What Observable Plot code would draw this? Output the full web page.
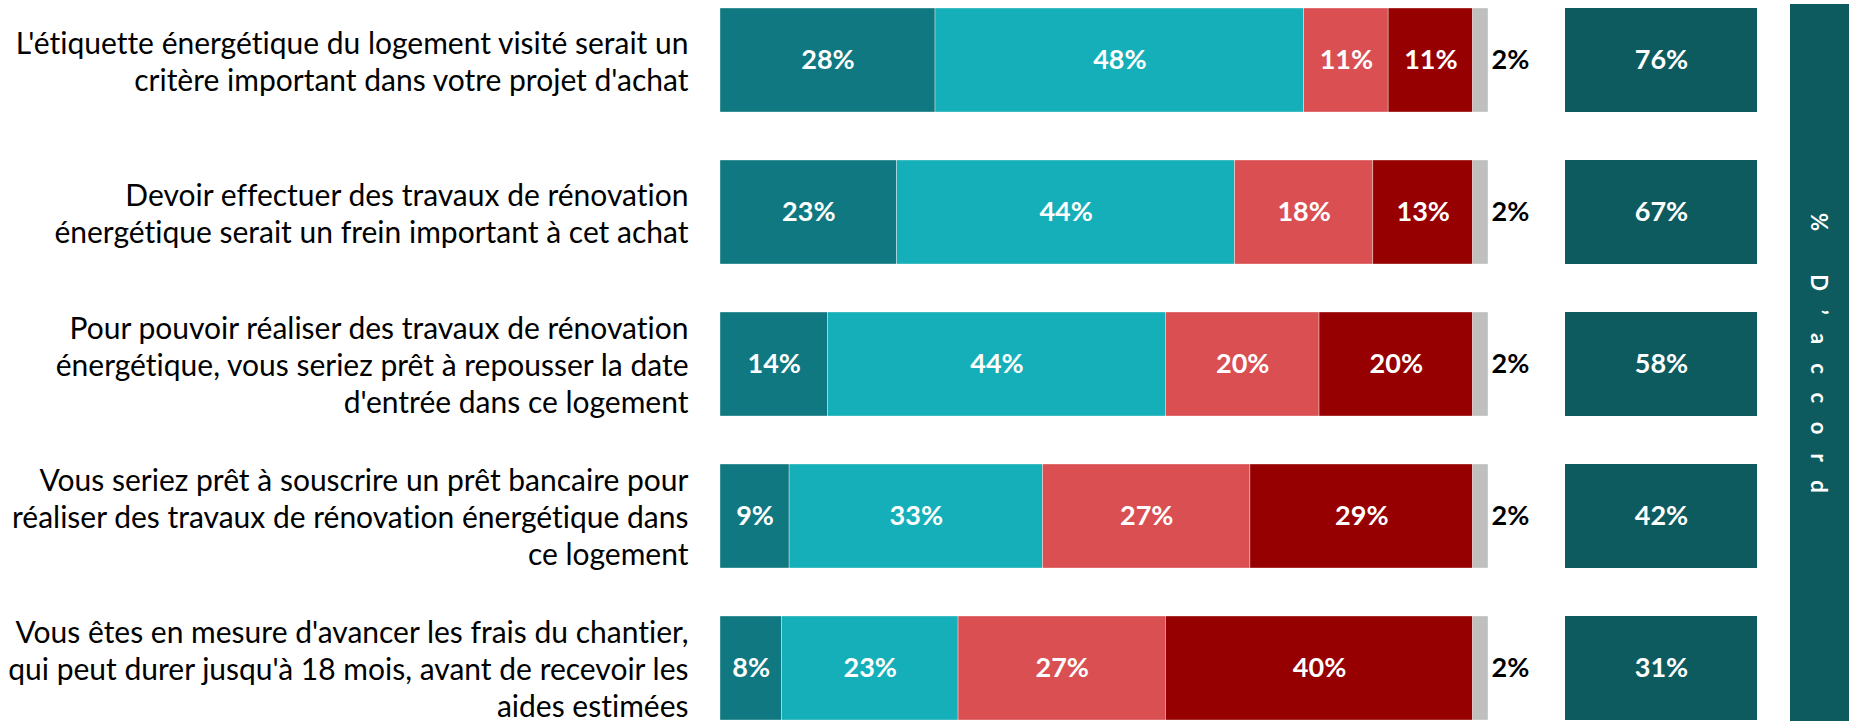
<!DOCTYPE html>
<html>
<head>
<meta charset="utf-8">
<script src="https://cdn.jsdelivr.net/npm/d3@7"></script>
<script src="https://cdn.jsdelivr.net/npm/@observablehq/plot@0.6"></script>
<style>
  html, body { margin: 0; padding: 0; background: #fff; }
  #wrap { position: relative; width: 1854px; height: 721px; overflow: hidden; font-family: Lato, "Open Sans", sans-serif; }
  #wrap svg { position: absolute; left: 0; top: 0; }
  #wrap svg text { font-variant-ligatures: none; }
  #banner { position: absolute; left: 1790px; top: 4px; width: 59px; height: 717px; background: #0D5B5E;
    display: flex; align-items: center; justify-content: center; }
  #banner span { writing-mode: vertical-rl; color: #fff; font-weight: bold; font-size: 22px; letter-spacing: 0.86em; white-space: nowrap; font-variant-ligatures: none; }
</style>
</head>
<body>
<div id="wrap"><div id="banner"><span>% D’accord</span></div></div>
<script>
// ---- data ----
const questions = [
  "L'étiquette énergétique du logement visité serait un\ncritère important dans votre projet d'achat",
  "Devoir effectuer des travaux de rénovation\nénergétique serait un frein important à cet achat",
  "Pour pouvoir réaliser des travaux de rénovation\nénergétique, vous seriez prêt à repousser la date\nd'entrée dans ce logement",
  "Vous seriez prêt à souscrire un prêt bancaire pour\nréaliser des travaux de rénovation énergétique dans\nce logement",
  "Vous êtes en mesure d'avancer les frais du chantier,\nqui peut durer jusqu'à 18 mois, avant de recevoir les\naides estimées"
];
const categories = ["Tout à fait d'accord", "Plutôt d'accord", "Plutôt pas d'accord", "Pas du tout d'accord", "NSP"];
const toutAFait  = [28, 23, 14, 9, 8];
const plutot     = [48, 44, 44, 33, 23];
const plutotPas  = [11, 18, 20, 27, 27];
const pasDuTout  = [11, 13, 20, 29, 40];
const nsp        = [2, 2, 2, 2, 2];
const accord     = [76, 67, 58, 42, 31];
const accordLabel = "% D’accord";
const colors = ["#0F7880", "#14AFB8", "#D94F52", "#960000", "#BFBFBF"];

const seriesValues = [toutAFait, plutot, plutotPas, pasDuTout, nsp];
const rows = [];
questions.forEach((q, i) => {
  categories.forEach((c, j) => rows.push({question: q, category: c, value: seriesValues[j][i]}));
});
const accordRows = questions.map((q, i) => ({question: q, value: accord[i]}));

const yScale = {domain: questions, range: [8, 720], paddingInner: 0.316, paddingOuter: 0, axis: null};
const fontFamily = "Lato, 'Open Sans', sans-serif";

const main = Plot.plot({
  width: 1854, height: 721,
  margin: 0,
  style: {background: "transparent", fontFamily, overflow: "visible"},
  x: {domain: [0, 100], range: [720, 1488], axis: null},
  y: yScale,
  color: {domain: categories, range: colors},
  marks: [
    Plot.barX(rows, Plot.stackX({x: "value", y: "question", fill: "category", stroke: "#fff", strokeWidth: 0.6, strokeOpacity: 0.6})),
    Plot.text(rows, Plot.stackX({x: "value", y: "question",
      text: d => d.category !== "NSP" ? d.value + "%" : null,
      fill: "#fff", fontWeight: "bold", fontSize: 27})),
    Plot.text(rows, Plot.stackX2({x: "value", y: "question",
      text: d => d.category === "NSP" ? d.value + "%" : null,
      fill: "#000", fontWeight: "bold", fontSize: 27, textAnchor: "start", dx: 3})),
    Plot.text(questions, {x: () => 0, y: d => d, text: d => d, textAnchor: "end", dx: -32,
      fontSize: 30, lineHeight: 1.233, fill: "#000"})
  ]
});

const side = Plot.plot({
  width: 1854, height: 721,
  margin: 0,
  style: {background: "transparent", fontFamily},
  x: {domain: [accordLabel], range: [1565, 1757], padding: 0, axis: null},
  y: yScale,
  marks: [
    Plot.cell(accordRows, {x: () => accordLabel, y: "question", fill: "#0D5B5E"}),
    Plot.text(accordRows, {x: () => accordLabel, y: "question", text: d => d.value + "%",
      fill: "#fff", fontWeight: "bold", fontSize: 27})
  ]
});

const wrap = document.getElementById("wrap");
wrap.insertBefore(main, wrap.firstChild);
wrap.insertBefore(side, main.nextSibling);
</script>
</body>
</html>
